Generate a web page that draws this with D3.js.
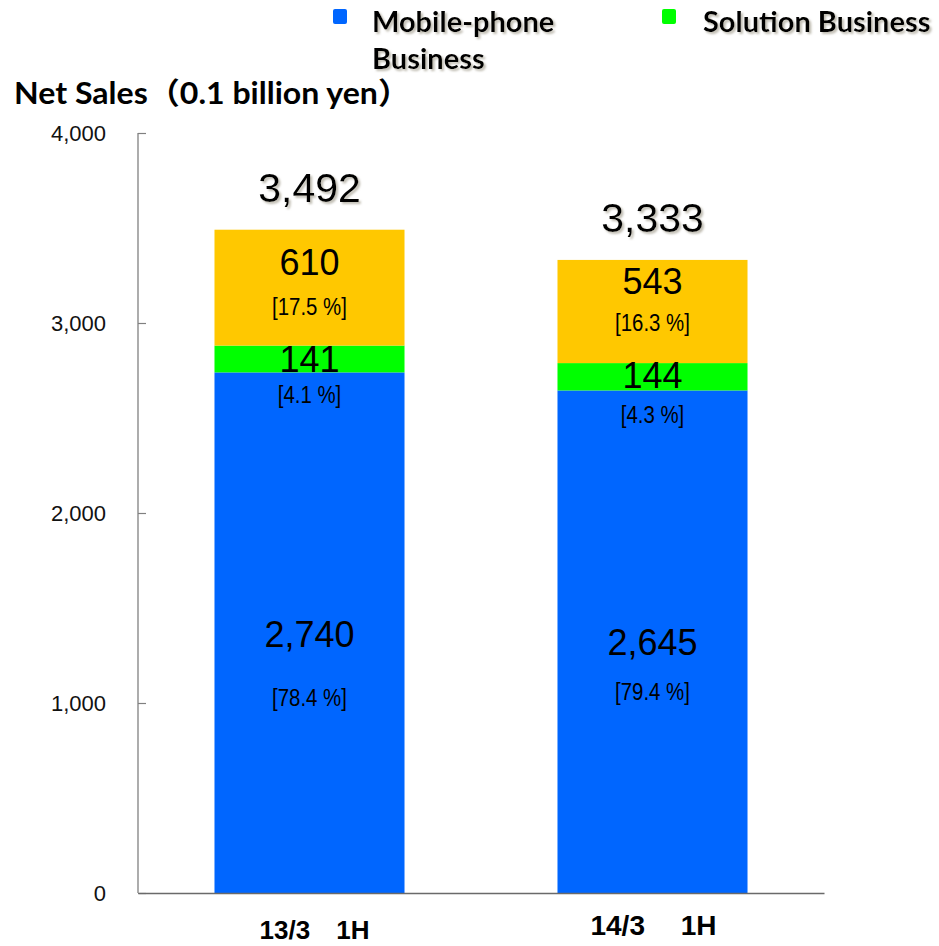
<!DOCTYPE html>
<html>
<head>
<meta charset="utf-8">
<script src="https://cdn.jsdelivr.net/npm/d3@7"></script>
<style>
  html, body { margin: 0; padding: 0; background: #fff; }
  svg { display: block; }
</style>
</head>
<body>
<svg id="chart" width="939" height="946"></svg>
<script>
// Net sales by segment, first half of each fiscal year (0.1 billion yen)
const categories = ["13/3\u30001H", "14/3\u3000 1H"];
const segments = ["mobile", "solution", "other"];
const mobileSales = [2740, 2645];
const solutionSales = [141, 144];
const otherSales = [610, 543];
const totals = [3492, 3333];
const mobileShare = ["78.4", "79.4"];
const solutionShare = ["4.1", "4.3"];
const otherShare = ["17.5", "16.3"];
const yTicks = [0, 1000, 2000, 3000, 4000];
const legendLabels = [["Mobile-phone", "Business"], ["Solution Business"]];

const colors = { mobile: "#0066FF", solution: "#00FF00", other: "#FFC800" };

// label placement relative to each segment's centre (value line, share line), per bar
const labelOffsets = {
  mobile:   [[14, 73], [13, 58]],
  solution: [[13, 44], [11, 46]],
  other:    [[-13, 27], [-18, 19]]
};
// category label styling per bar: [size, x shift, baseline]
const categoryStyle = [[26, 5, 939], [28, 1, 935]];

const svg = d3.select("#chart");

const defs = svg.append("defs");
const shadow = defs.append("filter").attr("id", "soft-shadow")
  .attr("x", "-10%").attr("y", "-10%").attr("width", "130%").attr("height", "140%");
shadow.append("feDropShadow")
  .attr("dx", 2).attr("dy", 2).attr("stdDeviation", 0.8)
  .attr("flood-color", "#b8b4a8").attr("flood-opacity", 0.9);

const x = d3.scaleBand()
  .domain(categories)
  .range([138, 824])
  .paddingInner(0.446)
  .paddingOuter(0.223);

const y = d3.scaleLinear().domain([0, 4000]).range([893, 133]);

const rows = categories.map((c, i) => ({
  category: c,
  mobile: mobileSales[i],
  solution: solutionSales[i],
  other: otherSales[i]
}));
const stacked = d3.stack().keys(segments)(rows);

// bars
const layers = svg.append("g").selectAll("g")
  .data(stacked)
  .join("g")
  .attr("fill", d => colors[d.key]);

layers.selectAll("rect")
  .data(d => d)
  .join("rect")
  .attr("x", d => x(d.data.category))
  .attr("width", x.bandwidth())
  .attr("y", d => y(d[1]))
  .attr("height", d => y(d[0]) - y(d[1]));

// y axis: line with inward ticks
const yAxis = d3.axisRight(y)
  .tickValues(yTicks)
  .tickSize(8)
  .tickFormat("");
const yAxisG = svg.append("g").attr("transform", "translate(138,0)").call(yAxis);
yAxisG.select(".domain").attr("stroke", "#808080").attr("stroke-width", 1.3).attr("d", "M0,133V893");
yAxisG.selectAll(".tick line").attr("stroke", "#808080").attr("stroke-width", 1.2);

svg.append("g").selectAll("text")
  .data(yTicks)
  .join("text")
  .attr("x", 106)
  .attr("y", d => y(d) + 8)
  .attr("text-anchor", "end")
  .attr("font-family", "Liberation Sans, Arial, sans-serif")
  .attr("font-size", 22)
  .attr("fill", "#111")
  .text(d => d3.format(",")(d));

// baseline
const xAxis = d3.axisBottom(x).tickSize(0).tickFormat("");
const xAxisG = svg.append("g").attr("transform", `translate(0,${y(0)})`).call(xAxis);
xAxisG.select(".domain").attr("stroke", "#6a6a6a").attr("stroke-width", 1.6);

// category labels
svg.append("g").selectAll("text")
  .data(categories)
  .join("text")
  .attr("x", (d, i) => x(d) + x.bandwidth() / 2 + categoryStyle[i][1])
  .attr("y", (d, i) => categoryStyle[i][2])
  .attr("text-anchor", "middle")
  .attr("font-family", "Liberation Sans, Arial, sans-serif")
  .attr("font-weight", "bold")
  .attr("font-size", (d, i) => categoryStyle[i][0])
  .attr("fill", "#000")
  .text(d => d);

// segment value + share labels
const shares = { mobile: mobileShare, solution: solutionShare, other: otherShare };
const segLabels = svg.append("g");
stacked.forEach(layer => {
  layer.forEach((d, i) => {
    const cx = x(d.data.category) + x.bandwidth() / 2;
    const mid = (y(d[0]) + y(d[1])) / 2;
    const [o1, o2] = labelOffsets[layer.key][i];
    segLabels.append("text")
      .attr("x", cx)
      .attr("y", mid + o1)
      .attr("text-anchor", "middle")
      .attr("font-family", "Liberation Sans, Arial, sans-serif")
      .attr("font-size", 36)
      .attr("fill", "#000")
      .text(d3.format(",")(d[1] - d[0]));
    segLabels.append("text")
      .attr("x", cx)
      .attr("y", mid + o2)
      .attr("text-anchor", "middle")
      .attr("font-family", "Liberation Sans, Arial, sans-serif")
      .attr("font-size", 24)
      .attr("transform", `translate(${cx},0) scale(0.85,1) translate(${-cx},0)`)
      .attr("fill", "#000")
      .text(`[${shares[layer.key][i]} %]`);
  });
});

// totals above the stacks
const topLayer = stacked[stacked.length - 1];
svg.append("g").selectAll("text")
  .data(topLayer)
  .join("text")
  .attr("x", d => x(d.data.category) + x.bandwidth() / 2)
  .attr("y", d => y(d[1]) - 28)
  .attr("text-anchor", "middle")
  .attr("font-family", "Liberation Sans, Arial, sans-serif")
  .attr("font-size", 41)
  .attr("fill", "#000")
  .attr("filter", "url(#soft-shadow)")
  .text((d, i) => d3.format(",")(totals[i]));

// title
svg.append("text")
  .attr("x", 14)
  .attr("y", 104)
  .attr("font-family", "Lato, 'Noto Sans CJK JP', sans-serif")
  .attr("font-weight", "bold")
  .attr("font-size", 30)
  .attr("textLength", 396)
  .attr("lengthAdjust", "spacingAndGlyphs")
  .attr("fill", "#000")
  .text("Net Sales\uFF080.1 billion yen\uFF09");

// legend
const legendPos = [{ sx: 333, tx: 372 }, { sx: 662, tx: 703 }];
const legend = svg.append("g");
["mobile", "solution"].forEach((key, i) => {
  legend.append("rect")
    .attr("x", legendPos[i].sx).attr("y", 9)
    .attr("width", 14).attr("height", 15)
    .attr("rx", 2)
    .attr("fill", colors[key]);
  const t = legend.append("text")
    .attr("x", legendPos[i].tx)
    .attr("y", 32)
    .attr("font-family", "Lato, sans-serif")
    .attr("font-weight", "bold")
    .attr("font-size", 29)
    .attr("fill", "#000")
    .attr("filter", "url(#soft-shadow)");
  legendLabels[i].forEach((line, j) => {
    t.append("tspan").attr("x", legendPos[i].tx).attr("dy", j === 0 ? 0 : 37).text(line);
  });
});
</script>
</body>
</html>
